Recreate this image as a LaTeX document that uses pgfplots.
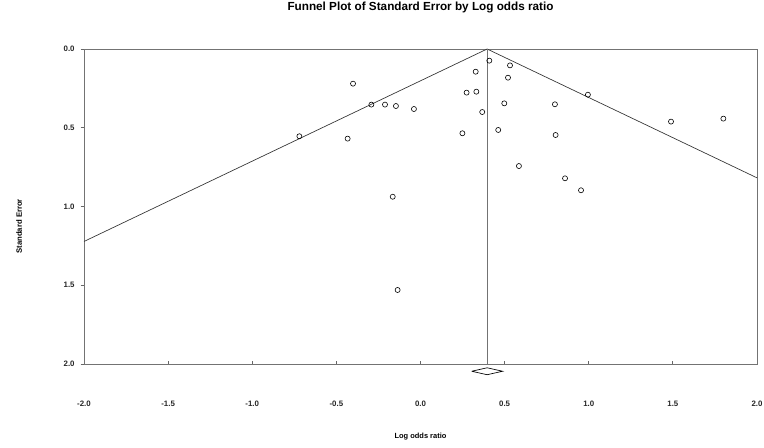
\documentclass[border=0pt]{standalone}
\usepackage{pgfplots}
\pgfplotsset{compat=1.18}
\usepackage{fontspec}
\setmainfont{Liberation Sans}
\begin{document}
\begin{tikzpicture}
\begin{axis}[
  scale only axis,
  width=504.75pt, height=236.25pt,
  xmin=-2, xmax=2, ymin=0, ymax=2,
  y dir=reverse,
  clip=false,
  axis line style={gray!90!black, line width=0.6pt},
  xtick={-2,-1.5,...,2},
  ytick={0,0.5,1,1.5,2},
  xtick pos=lower, ytick pos=left,
  xtick align=inside, ytick align=outside,
  major tick length=2.5pt,
  tick style={gray!80!black, line width=0.6pt},
  /pgf/number format/.cd, fixed, fixed zerofill, precision=1, assume math mode=true,
  /pgfplots/.cd,
  tick label style={font=\fontsize{5.9}{7}\selectfont\bfseries, text=black!85},
  xticklabel style={anchor=center, yshift=-30pt},
  yticklabel style={anchor=east, xshift=-1pt},
  title={Funnel Plot of Standard Error by Log odds ratio},
  title style={at={(axis description cs:0.5,1)}, anchor=center, yshift=25.5pt, font=\fontsize{8.8}{10}\selectfont\bfseries},
  xlabel={Log odds ratio},
  xlabel style={at={(axis description cs:0.5,0)}, anchor=center, yshift=-54.75pt, font=\fontsize{5.6}{7}\selectfont\bfseries},
  ylabel={Standard Error},
  ylabel style={at={([xshift=-48.75pt]axis description cs:0,0.437)}, anchor=center, font=\fontsize{5.8}{7}\selectfont\bfseries},
]
% funnel
\addplot[black!80, line width=0.5pt] coordinates {(-2,1.222) (0.396,0) (2,0.818)};
% center line
\addplot[gray!90!black, line width=0.6pt] coordinates {(0.396,0) (0.396,2)};
% diamond
\addplot[black, line width=0.5pt] coordinates {(0.304,2.046) (0.396,2.024) (0.488,2.046) (0.396,2.068) (0.304,2.046)};
% studies
\addplot[only marks, mark=o, mark size=1.9pt, mark options={black, line width=0.45pt}] coordinates {
(0.409,0.074) (0.532,0.104) (0.520,0.182) (0.328,0.144) (-0.401,0.220)
(0.274,0.277) (0.332,0.271) (0.498,0.345) (0.799,0.351) (-0.292,0.353)
(-0.211,0.353) (-0.146,0.362) (-0.039,0.381) (0.367,0.400) (-0.720,0.554)
(-0.433,0.569) (0.249,0.535) (0.462,0.514) (0.803,0.546) (0.585,0.743)
(0.859,0.821) (-0.165,0.938) (0.954,0.897) (0.995,0.290) (1.489,0.461)
(1.800,0.442) (-0.136,1.530)
};
\end{axis}
\pgfresetboundingbox
\path[use as bounding box] ([shift={(-63pt,-62.25pt)}]current axis.south west) rectangle ([shift={(5.25pt,36.75pt)}]current axis.north east);
\end{tikzpicture}
\end{document}
